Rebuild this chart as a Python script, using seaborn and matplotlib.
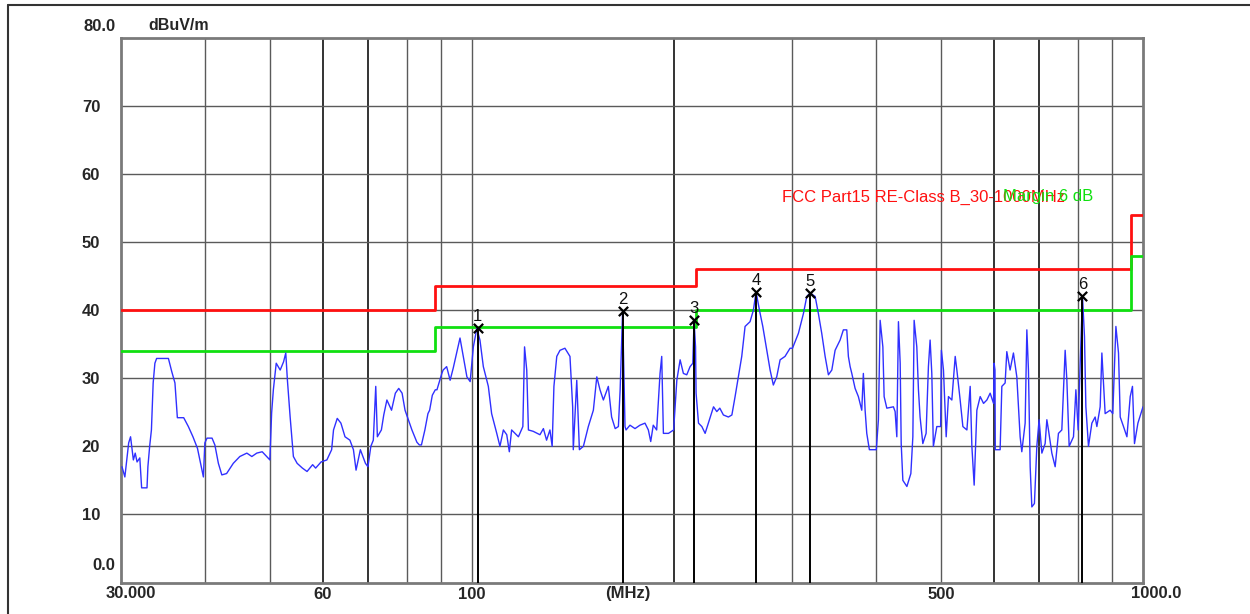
# radiated emission scan, 30-1000 MHz, with FCC Class B limit lines
import numpy as np
import pandas as pd
import seaborn as sns
import matplotlib.pyplot as plt
from matplotlib.lines import Line2D
from matplotlib.ticker import NullLocator

# ----------------------------------
# Data
# ----------------------------------
freq_mhz = [
    30.1, 30.4, 30.8, 31.0, 31.3, 31.5, 31.7, 32.0, 32.2, 32.8, 32.9, 33.1, 33.3, 33.5,
    33.7, 33.9, 35.3, 35.7, 36.1, 36.4, 37.2, 37.8, 38.4, 39.0, 39.6, 39.8, 40.0, 40.3,
    41.0, 41.4, 41.9, 42.4, 43.1, 44.1, 45.1, 46.2, 47.0, 47.8, 48.7, 50.0, 50.3, 50.6,
    51.1, 51.8, 52.4, 52.8, 53.1, 53.6, 54.2, 54.9, 55.9, 56.8, 57.9, 58.5, 59.6, 60.8,
    61.8, 62.2, 63.0, 63.8, 64.7, 65.8, 66.6, 67.2, 68.2, 69.4, 70.0, 70.7, 71.3, 71.9,
    72.3, 73.3, 73.9, 74.7, 75.9, 76.9, 77.8, 78.7, 79.5, 80.4, 81.4, 82.8, 83.5, 84.1,
    85.1, 86.0, 86.5, 87.3, 88.2, 88.7, 90.2, 90.6, 91.7, 92.8, 93.8, 94.9, 96.0, 97.1,
    98.3, 99.4, 100.5, 101.7, 102.8, 104.0, 105.8, 107.0, 108.9, 110.1, 111.4, 112.7,
    113.7, 114.6, 117.3, 119.1, 119.8, 120.7, 121.4, 123.4, 126.3, 127.8, 129.2, 130.7,
    131.7, 132.5, 133.8, 135.3, 137.6, 140.0, 141.3, 141.6, 143.3, 144.6, 146.6, 149.1,
    151.7, 153.5, 155.2, 157.0, 159.7, 161.5, 163.5, 165.3, 166.3, 167.7, 169.1, 169.7,
    172.0, 175.0, 178.0, 181.1, 183.2, 184.7, 186.3, 188.5, 190.7, 191.8, 192.9, 196.3,
    199.8, 202.0, 204.3, 206.6, 209.0, 211.4, 213.4, 214.3, 215.4, 215.8, 217.6, 220.1,
    222.6, 225.1, 229.1, 231.7, 234.1, 237.0, 241.1, 244.0, 246.7, 249.5, 252.4, 255.3,
    259.7, 262.7, 265.1, 268.2, 271.3, 275.1, 278.2, 281.3, 284.6, 287.9, 292.8, 297.9,
    300.4, 306.6, 311.9, 315.5, 319.1, 324.7, 328.3, 332.1, 336.0, 339.8, 343.8, 347.7,
    353.7, 357.7, 359.8, 361.9, 363.9, 366.1, 368.2, 372.4, 376.6, 381.0, 383.1, 385.4,
    387.6, 391.1, 400.5, 403.4, 405.8, 409.6, 411.4, 415.2, 424.7, 427.2, 429.7, 432.1,
    434.7, 436.2, 438.7, 444.8, 450.9, 454.0, 456.0, 460.2, 462.8, 465.4, 469.8, 475.1,
    478.9, 481.7, 484.5, 487.1, 492.9, 499.4, 500.7, 504.3, 509.0, 513.0, 519.0, 525.0,
    528.0, 534.0, 539.0, 546.5, 552.7, 555.9, 560.3, 565.5, 572.0, 578.6, 585.3, 591.9,
    598.8, 600.0, 601.8, 602.4, 612.5, 616.1, 623.1, 626.7, 633.8, 641.1, 648.6, 656.0,
    659.8, 667.4, 671.3, 675.0, 679.0, 682.9, 689.0, 694.7, 700.1, 706.8, 714.8, 719.0,
    723.0, 731.4, 739.8, 748.2, 756.9, 765.6, 770.1, 776.2, 787.8, 794.3, 800.6, 806.1,
    812.5, 818.1, 822.0, 829.4, 839.1, 848.6, 853.6, 863.3, 868.4, 878.2, 893.5, 901.5,
    911.2, 919.4, 924.8, 935.3, 946.3, 957.1, 964.5, 971.2, 982.7, 996.2, 1000.0,
]
level_dbuv = [
    17.0, 15.5, 20.5, 21.4, 18.0, 19.0, 17.7, 18.3, 13.9, 13.9, 17.0, 20.0, 22.4, 29.3,
    32.2, 32.9, 32.9, 31.0, 29.3, 24.2, 24.2, 22.9, 21.4, 19.7, 16.5, 15.5, 20.5, 21.2,
    21.2, 20.2, 17.5, 15.8, 16.0, 17.5, 18.5, 19.0, 18.5, 19.0, 19.2, 18.0, 24.9, 28.3,
    32.2, 31.2, 32.4, 33.7, 29.7, 24.3, 18.5, 17.5, 16.8, 16.3, 17.3, 16.8, 17.7, 18.0,
    19.5, 22.4, 24.1, 23.4, 21.4, 20.9, 19.5, 16.5, 19.5, 17.5, 17.0, 20.0, 20.9, 28.8,
    21.4, 22.4, 24.6, 26.8, 25.3, 27.8, 28.5, 27.8, 25.3, 23.9, 22.4, 20.6, 20.2, 20.2,
    22.4, 24.8, 25.3, 27.5, 28.3, 28.3, 30.7, 31.2, 31.7, 29.7, 31.5, 33.7, 35.9, 33.2,
    30.2, 29.5, 34.6, 37.3, 35.6, 31.7, 28.8, 24.8, 21.9, 20.0, 22.4, 21.7,
    19.2, 22.4, 21.4, 22.9, 34.6, 31.2, 22.4, 22.2, 21.7, 22.6, 20.9, 22.4,
    20.0, 28.8, 33.2, 34.1, 34.4, 33.2, 25.8, 19.5, 29.7, 19.5, 20.0, 22.9,
    25.3, 30.2, 28.3, 26.8, 28.8, 24.3, 22.6, 22.9, 28.3, 39.8, 22.9, 22.4,
    23.1, 22.6, 23.1, 23.4, 22.4, 20.7, 23.1, 22.4, 30.7, 33.2, 21.9, 21.9,
    22.4, 29.7, 32.7, 30.7, 30.5, 31.7, 32.2, 38.5, 34.6, 27.8, 23.4, 22.9,
    21.9, 23.4, 25.8, 25.1, 25.6, 24.6, 24.3, 24.6, 27.3, 30.2, 33.2, 37.6,
    38.3, 40.0, 42.7, 40.0, 37.6, 34.1, 31.2, 29.0, 30.2, 32.7, 33.2, 34.4,
    34.4, 36.6, 39.5, 42.0, 42.5, 42.0, 39.5, 36.6, 33.2, 30.5, 31.2, 34.1,
    35.6, 37.1, 37.1, 37.1, 33.2, 31.7, 30.7, 28.5, 27.3, 25.3, 30.7, 25.3,
    21.9, 19.5, 19.5, 23.9, 38.5, 34.6, 27.3, 25.6, 25.8, 25.1, 21.4, 38.3,
    32.2, 20.4, 15.0, 14.1, 16.0, 21.4, 38.5, 34.6, 28.3, 24.3, 20.4, 21.9,
    31.7, 35.6, 30.7, 20.0, 22.9, 22.9, 34.1, 31.2, 21.4, 27.3, 26.8, 33.2,
    31.2, 26.8, 22.9, 22.4, 28.8, 20.0, 14.3, 25.3, 27.3, 26.3, 26.8, 27.8,
    26.3, 32.2, 31.2, 19.5, 19.5, 28.8, 29.3, 33.9, 31.2, 33.7, 30.2, 21.4,
    19.2, 23.4, 37.1, 31.2, 17.0, 11.1, 11.6, 20.0, 23.9, 19.0, 20.4, 23.9,
    22.4, 19.0, 17.0, 21.9, 22.4, 34.1, 29.7, 20.0, 21.4, 28.3, 22.4, 32.2,
    42.0, 36.1, 25.8, 20.0, 23.4, 24.3, 22.9, 25.8, 33.7, 24.8, 25.3, 24.8,
    37.6, 33.7, 24.3, 22.9, 21.4, 27.3, 28.8, 20.4, 23.4, 25.3, 25.8,
]

# FCC Part 15 Class B (3 m) and the -6 dB margin line
limit_edges = [30, 88, 216, 960, 1000]
limit_class_b = [40.0, 43.5, 46.0, 54.0]
limit_margin = [34.0, 37.5, 40.0, 48.0]

marker_names = ['1', '2', '3', '4', '5', '6']
marker_freq = [102.0, 167.7, 214.3, 265.1, 319.1, 812.5]
marker_level = [37.3, 39.8, 38.5, 42.7, 42.5, 42.0]

x_ticks = [60, 100, 500]
y_ticks = [10, 20, 30, 40, 50, 60, 70]
grid_x = [40, 50, 80, 90, 100, 300, 400, 500, 800, 900]
grid_x_dark = [60, 70, 200, 600, 700]

df = pd.DataFrame({'freq': freq_mhz, 'level': level_dbuv})

# ----------------------------------
# Plot
# ----------------------------------
sns.set_style('white')
plt.rcParams['font.family'] = ['Liberation Sans', 'DejaVu Sans']

fig = plt.figure(figsize=(12.5, 6.14), dpi=100)
ax = fig.add_axes([0.0968, 0.0513, 0.8176, 0.8873])
ax.set_xscale('log')

for g in grid_x:
    ax.axvline(g, color='#5a5a5a', lw=1.0, zorder=1)
for g in grid_x_dark:
    ax.axvline(g, color='#111111', lw=1.2, zorder=1)
for g in y_ticks:
    ax.axhline(g, color='#5a5a5a', lw=1.0, zorder=1)

ax.step(limit_edges, limit_class_b + [limit_class_b[-1]], where='post',
        color='#ff1010', lw=2.0, zorder=3)
ax.step(limit_edges, limit_margin + [limit_margin[-1]], where='post',
        color='#10e010', lw=2.0, zorder=3)

sns.lineplot(data=df, x='freq', y='level', ax=ax, color='#3030ff', lw=1.0,
             sort=False, estimator=None, zorder=4)

# peak markers
ax.vlines(marker_freq, 0, marker_level, color='black', lw=1.4, zorder=5)
ax.scatter(marker_freq, marker_level, marker='x', s=45, c='black', lw=1.6, zorder=6)
for name, f, lvl in zip(marker_names, marker_freq, marker_level):
    ax.annotate(name, (f, lvl), xytext=(0, 3), textcoords='offset points',
                ha='center', va='bottom', fontsize=12, color='#111111')

ax.set_xlim(30, 1000)
ax.set_ylim(0, 80)
ax.set_xlabel('')
ax.set_ylabel('')

ax.set_xticks(x_ticks)
ax.set_xticklabels([str(t) for t in x_ticks], fontweight='bold', fontsize=12)
ax.xaxis.set_minor_locator(NullLocator())
ax.set_yticks(y_ticks)
ax.set_yticklabels([str(t) for t in y_ticks], fontweight='bold', fontsize=12)
ax.tick_params(axis='x', length=0, pad=3)
ax.tick_params(axis='y', length=0, pad=15)

for sp in ax.spines.values():
    sp.set_color('#7a7a7a')
    sp.set_linewidth(2.0)

# axis end labels and units
fig.text(0.0928, 0.9565, '80.0', ha='right', va='center', fontsize=12, fontweight='bold')
fig.text(0.0920, 0.0782, '0.0', ha='right', va='center', fontsize=12, fontweight='bold')
fig.text(0.1184, 0.9577, 'dBuV/m', ha='left', va='center', fontsize=11.5, fontweight='bold')
fig.text(0.1048, 0.0342, '30.000', ha='center', va='center', fontsize=12, fontweight='bold')
fig.text(0.5024, 0.0342, '(MHz)', ha='center', va='center', fontsize=12, fontweight='bold')
fig.text(0.9248, 0.0342, '1000.0', ha='center', va='center', fontsize=12, fontweight='bold')

# limit line captions (they overprint each other in the original report)
ax.text(0.6256, 0.6792, 'FCC Part15 RE-Class B_30-1000MHz', transform=fig.transFigure,
        ha='left', va='center', fontsize=12, color='#ff1010')
ax.text(0.8744, 0.6792, 'Margin 6 dB', transform=fig.transFigure,
        ha='right', va='center', fontsize=12, color='#10e010')

# outer frame of the report
fig.add_artist(Line2D([8 / 1250, 8 / 1250], [0, 1 - 5 / 614], transform=fig.transFigure,
                      color='#333333', lw=1.5))
fig.add_artist(Line2D([8 / 1250, 1], [1 - 5 / 614, 1 - 5 / 614], transform=fig.transFigure,
                      color='#333333', lw=1.5))

fig.savefig('out.png', dpi=100)
